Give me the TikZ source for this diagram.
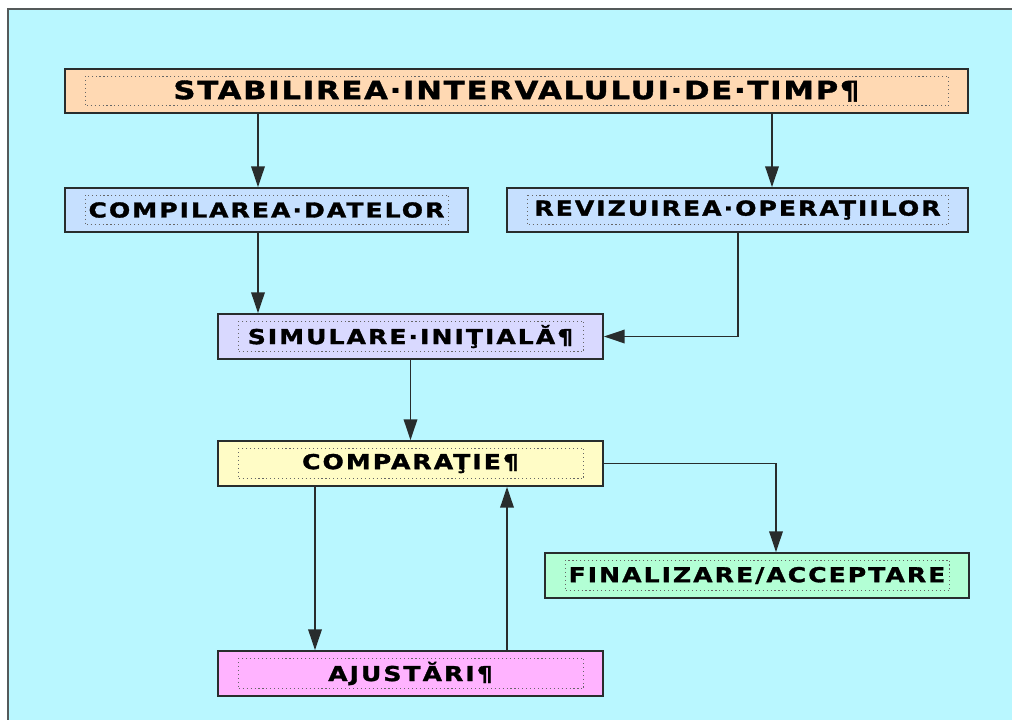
\documentclass[tikz,border=0pt]{standalone}
\usepackage{fontspec}
\setmainfont{DejaVu Sans}
\newfontfamily\stepfont[FakeStretch=1.22,LetterSpace=10,FakeBold=1.5]{DejaVu Sans Bold}
\newfontfamily\titlefont[FakeStretch=1.22,LetterSpace=7,FakeBold=1.5]{DejaVu Sans Bold}
\usetikzlibrary{arrows.meta}
\usetikzlibrary{calc}
\newcommand{\px}{0.025cm}
\definecolor{bgcyan}{RGB}{185,247,255}
\definecolor{framegray}{RGB}{85,90,90}
\definecolor{boxline}{RGB}{40,45,45}
\definecolor{peach}{RGB}{255,217,179}
\definecolor{paleblue}{RGB}{198,224,255}
\definecolor{lavender}{RGB}{217,217,255}
\definecolor{paleyellow}{RGB}{255,252,198}
\definecolor{mint}{RGB}{179,255,213}
\definecolor{pink}{RGB}{255,179,255}
\tikzset{
  stepbox/.style={draw=boxline, line width=1.3pt, inner sep=0pt, minimum height=45*\px,
    font=\stepfont\fontsize{14.6}{16}\selectfont},
  innerframe/.style={draw=black!60, dotted, line width=0.8pt},
  arr/.style={draw=boxline, line width=1.1pt, -{Triangle[length=0.52cm,width=0.34cm]}}
}
\begin{document}
\begin{tikzpicture}[x=\px, y=-\px]
  \useasboundingbox (0,0) rectangle (1012,719);
  \fill[bgcyan] (8,9) rectangle (1030,730);
  \draw[framegray, line width=1.6pt] (8,730) -- (8,9) -- (1030,9);

  \node[stepbox, fill=peach, minimum width=903*\px, minimum height=44*\px, font=\titlefont\fontsize{17.9}{20}\selectfont] (stab) at (516.5,91) {STABILIREA·INTERVALULUI·DE·TIMP¶};
  \node[stepbox, fill=paleblue, minimum width=403*\px, minimum height=44*\px] (comp) at (266.5,210) {COMPILAREA·DATELOR};
  \node[stepbox, fill=paleblue, minimum width=461*\px, minimum height=44*\px] (rev) at (737.5,210) {REVIZUIREA·OPERAŢIILOR};
  \node[stepbox, fill=lavender, minimum width=385*\px] (sim) at (410.5,336.5) {SIMULARE·INIŢIALĂ¶};
  \node[stepbox, fill=paleyellow, minimum width=385*\px] (cmp) at (410.5,463.5) {COMPARAŢIE¶};
  \node[stepbox, fill=mint, minimum width=424*\px] (fin) at (757,575.5) {FINALIZARE/ACCEPTARE};
  \node[stepbox, fill=pink, minimum width=385*\px] (adj) at (410.5,673.5) {AJUSTĂRI¶};

  \foreach \n in {stab,comp,rev,sim,cmp,fin,adj}
    \draw[innerframe] ($(\n.north west)+(21,8)$) rectangle ($(\n.south east)+(-20,-8)$);

  \draw[arr] (stab.south -| 258,0) -- (comp.north -| 258,0);
  \draw[arr] (stab.south -| 772,0) -- (rev.north -| 772,0);
  \draw[arr] (comp.south -| 258,0) -- (sim.north -| 258,0);
  \draw[arr] (rev.south -| 738,0) |- (sim.east);
  \draw[arr] (sim.south) -- (cmp.north);
  \draw[arr] (cmp.east) -| (fin.north -| 776,0);
  \draw[arr] (cmp.south -| 315,0) -- (adj.north -| 315,0);
  \draw[arr] (adj.north -| 507,0) -- (cmp.south -| 507,0);
\end{tikzpicture}
\end{document}
